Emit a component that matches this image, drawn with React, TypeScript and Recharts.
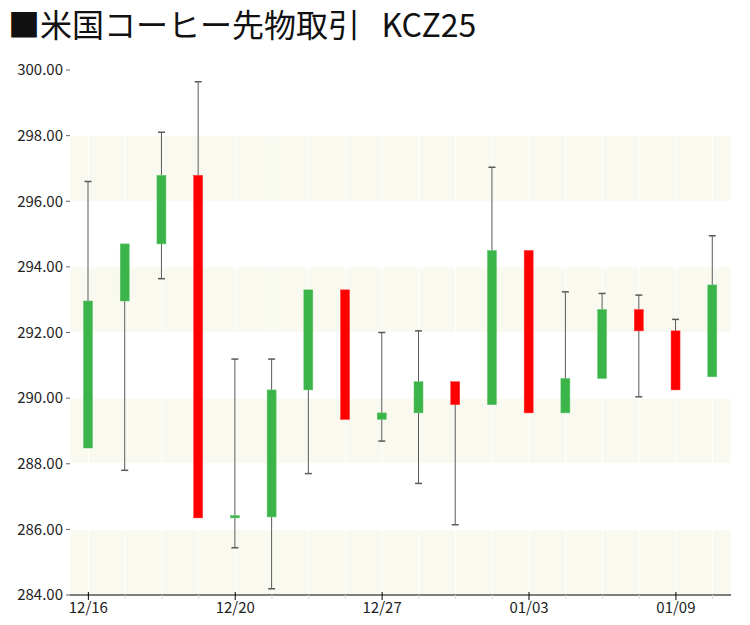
import React from "react";
import { ComposedChart, Bar, XAxis, YAxis, CartesianGrid } from "recharts";

const dates = ["12/16","12/17","12/18","12/19","12/20","12/23","12/24","12/26","12/27","12/30","12/31","01/02","01/03","01/06","01/07","01/08","01/09","01/10"];
const opens = [288.48,292.96,294.70,296.79,286.35,286.38,290.25,293.30,289.35,289.55,290.50,289.80,294.50,289.55,290.60,292.70,292.05,290.65];
const highs = [296.60,294.70,298.10,299.64,291.19,291.19,293.30,293.30,292.00,292.05,290.50,297.04,294.50,293.24,293.19,293.14,292.40,294.95];
const lows = [288.48,287.80,293.64,286.35,285.44,284.19,287.70,289.35,288.69,287.40,286.14,289.80,289.55,289.55,290.60,290.04,290.25,290.65];
const closes = [292.96,294.70,296.79,286.35,286.42,290.25,293.30,289.35,289.55,290.50,289.80,294.50,289.55,290.60,292.70,292.05,290.25,293.45];
const yTicks = [284,286,288,290,292,294,296,298,300];

const FONT = '"Noto Sans CJK JP", "Noto Sans", sans-serif';

const data = dates.map((d, i) => ({
  date: d,
  open: opens[i],
  high: highs[i],
  low: lows[i],
  close: closes[i],
  range: [lows[i], highs[i]],
}));

const Candle = (props: any) => {
  const { x, y, width, height, payload } = props;
  const { open, close, high, low } = payload;
  const top = Math.min(y, y + height);
  const h = Math.abs(height);
  const ppu = h / (high - low);
  const yOf = (v: number) => top + (high - v) * ppu;
  const cx = x + width / 2;
  const up = close >= open;
  const bTop = yOf(Math.max(open, close));
  const bBot = yOf(Math.min(open, close));
  const bH = Math.max(bBot - bTop, 2);
  const bw = 9;
  const hasUpper = yOf(high) < bTop - 0.5;
  const hasLower = yOf(low) > bBot + 0.5;
  const wick = "#5a5a5a";
  return (
    <g>
      {hasUpper && <line x1={cx} x2={cx} y1={yOf(high)} y2={bTop} stroke={wick} strokeWidth={1} />}
      {hasUpper && <line x1={cx - 3.5} x2={cx + 3.5} y1={yOf(high)} y2={yOf(high)} stroke={wick} strokeWidth={1.5} />}
      {hasLower && <line x1={cx} x2={cx} y1={bBot} y2={yOf(low)} stroke={wick} strokeWidth={1} />}
      {hasLower && <line x1={cx - 3.5} x2={cx + 3.5} y1={yOf(low)} y2={yOf(low)} stroke={wick} strokeWidth={1.5} />}
      <rect x={cx - bw / 2} y={bTop} width={bw} height={bH} fill={up ? "#3bb54a" : "#ff0000"} stroke={up ? "#5ec46a" : "#ff3030"} strokeWidth={0.5} />
    </g>
  );
};

const XTick = (props: any) => {
  const { x, y, payload, index } = props;
  const axisY = y - 2;
  const major = index % 4 === 0;
  return (
    <g>
      {major ? (
        <line x1={x} x2={x} y1={axisY - 3} y2={axisY + 5} stroke="#000" strokeWidth={1} />
      ) : (
        <line x1={x} x2={x} y1={axisY} y2={axisY + 4} stroke="#d8d8d8" strokeWidth={1} />
      )}
      {major && (
        <text x={x} y={axisY + 18} textAnchor="middle" fontSize={15} fontFamily={FONT} fill="#222">
          {payload.value}
        </text>
      )}
    </g>
  );
};

export default function App() {
  return (
    <div style={{ position: "absolute", left: 0, top: 0, width: 750, height: 625, background: "#fff" }}>
      <ComposedChart
        width={750}
        height={625}
        data={data}
        margin={{ top: 70, right: 19, bottom: 0, left: 0 }}
        style={{ fontFamily: FONT }}
      >
        <CartesianGrid
          vertical={true}
          horizontal={true}
          stroke="#ffffff"
          horizontalFill={["#ffffff", "#f9f9ef"]}
          fillOpacity={1}
        />
        <XAxis
          dataKey="date"
          interval={0}
          height={30}
          tickLine={false}
          tickSize={0}
          tickMargin={2}
          axisLine={{ stroke: "#000", strokeWidth: 1 }}
          tick={<XTick />}
        />
        <YAxis
          domain={[284, 300]}
          ticks={yTicks}
          width={70}
          axisLine={false}
          tickSize={4}
          tickMargin={3}
          tickLine={{ stroke: "#666" }}
          tick={{ fontSize: 15, fill: "#222", fontFamily: FONT }}
          tickFormatter={(v: number) => v.toFixed(2)}
          allowDataOverflow={true}
        />
        <Bar dataKey="range" shape={<Candle />} isAnimationActive={false} barSize={10} />
      </ComposedChart>
      <div
        style={{
          position: "absolute",
          left: 8,
          top: 3,
          fontFamily: FONT,
          fontSize: 32,
          lineHeight: "40px",
          color: "#111",
          whiteSpace: "pre",
        }}
      >
        {"■米国コーヒー先物取引   KCZ25"}
      </div>
    </div>
  );
}
